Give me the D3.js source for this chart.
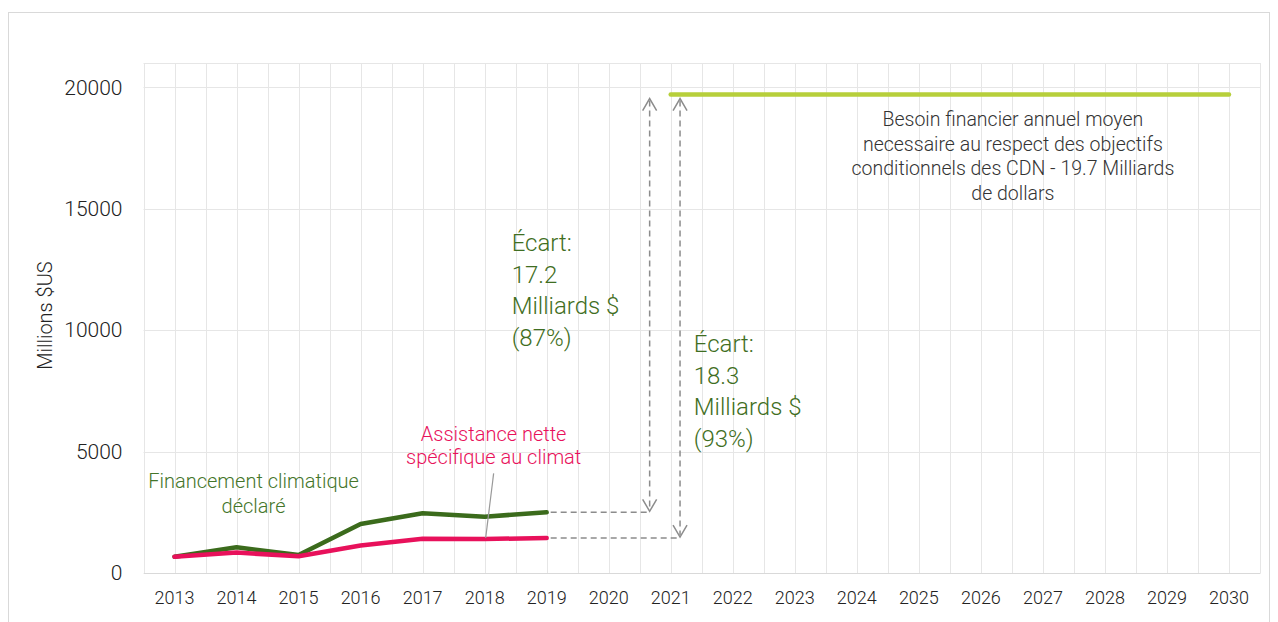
<!DOCTYPE html>
<html>
<head>
<meta charset="utf-8">
<script src="https://cdn.jsdelivr.net/npm/d3@7"></script>
<style>
  body { margin: 0; background: #fff; }
  #chart { width: 1278px; height: 622px; }
</style>
</head>
<body>
<div id="chart"></div>
<script>
const years = d3.range(2013, 2031).map(String);
const histYears = ["2013", "2014", "2015", "2016", "2017", "2018", "2019"];
const financement = [670, 1060, 740, 2020, 2460, 2320, 2500];
const assistance = [670, 840, 690, 1130, 1410, 1400, 1440];
const needYears = ["2021", "2030"];
const needValue = 19700;
const yTicks = [0, 5000, 10000, 15000, 20000];

const width = 1278, height = 622;
const margin = { top: 63, right: 18, bottom: 49, left: 143.5 };

const svg = d3.select("#chart")
  .append("svg")
  .attr("width", width)
  .attr("height", height)
  .style("font-family", "Roboto, sans-serif")
  .style("font-weight", 300);

// outer frame
svg.append("rect")
  .attr("x", 8.5).attr("y", 12.5)
  .attr("width", 1261).attr("height", 640)
  .attr("fill", "none")
  .attr("stroke", "#d9d9d9");

const x = d3.scaleBand()
  .domain(years)
  .range([margin.left, width - margin.right])
  .padding(0);
const bw = x.bandwidth();
const cx = d => x(d) + bw / 2;

const y = d3.scaleLinear()
  .domain([0, 21000])
  .range([height - margin.bottom, margin.top]);

// grid
const grid = svg.append("g").attr("stroke", "#e6e6e6").attr("stroke-width", 1);
const gx = [];
years.forEach(d => { gx.push(x(d)); gx.push(cx(d)); });
gx.push(x(years[years.length - 1]) + bw);
grid.selectAll(".v").data(gx).enter().append("line")
  .attr("x1", d => Math.round(d) + 0.5).attr("x2", d => Math.round(d) + 0.5)
  .attr("y1", y(21000)).attr("y2", y(0));
grid.selectAll(".h").data(yTicks.concat([21000])).enter().append("line")
  .attr("x1", margin.left).attr("x2", width - margin.right)
  .attr("y1", d => Math.round(y(d)) + 0.5).attr("y2", d => Math.round(y(d)) + 0.5);

// axes
const xAxis = svg.append("g")
  .attr("transform", `translate(0,${y(0)})`)
  .call(d3.axisBottom(x).tickSize(0).tickPadding(18));
xAxis.select(".domain").attr("stroke", "#d9d9d9");
xAxis.selectAll("text").style("font-size", "18px").style("font-family", "Roboto, sans-serif").attr("fill", "#222");

const yAxis = svg.append("g")
  .attr("transform", `translate(${margin.left},0)`)
  .call(d3.axisLeft(y).tickValues(yTicks).tickSize(0).tickPadding(21).tickFormat(d3.format("d")));
yAxis.select(".domain").remove();
yAxis.selectAll("text").style("font-size", "21px").style("font-family", "Roboto, sans-serif").attr("fill", "#222");

svg.append("text")
  .attr("transform", `translate(52,${y(10600)}) rotate(-90)`)
  .attr("text-anchor", "middle")
  .style("font-size", "20px")
  .attr("fill", "#222")
  .text("Millions $US");

// lines
const line = d3.line()
  .x((d, i) => cx(histYears[i]))
  .y(d => y(d));

svg.append("path")
  .datum(financement)
  .attr("d", line)
  .attr("fill", "none")
  .attr("stroke", "#3b6b1c")
  .attr("stroke-width", 4.5)
  .attr("stroke-linecap", "round")
  .attr("stroke-linejoin", "round");

svg.append("path")
  .datum(assistance)
  .attr("d", line)
  .attr("fill", "none")
  .attr("stroke", "#e8115b")
  .attr("stroke-width", 4.5)
  .attr("stroke-linecap", "round")
  .attr("stroke-linejoin", "round");

svg.append("line")
  .attr("x1", cx(needYears[0])).attr("x2", cx(needYears[1]))
  .attr("y1", y(needValue)).attr("y2", y(needValue))
  .attr("stroke", "#b7cf3b")
  .attr("stroke-width", 4.5)
  .attr("stroke-linecap", "round");

// gap arrows
const dashCol = "#8c8c8c";
function gapArrow(value, xPos) {
  const g = svg.append("g").attr("stroke", dashCol).attr("stroke-width", 1.5).attr("fill", "none");
  g.append("line")
    .attr("x1", cx("2019") + 4).attr("x2", xPos)
    .attr("y1", y(value)).attr("y2", y(value))
    .attr("stroke-dasharray", "6,4");
  const top = y(needValue) + 4, bot = y(value) - 1;
  g.append("line")
    .attr("x1", xPos).attr("x2", xPos)
    .attr("y1", top + 2).attr("y2", bot - 2)
    .attr("stroke-dasharray", "6,4");
  g.append("path").attr("d", `M${xPos - 7},${top + 12}L${xPos},${top}L${xPos + 7},${top + 12}`);
  g.append("path").attr("d", `M${xPos - 7},${bot - 12}L${xPos},${bot}L${xPos + 7},${bot - 12}`);
}
gapArrow(financement[6], cx("2020") + 0.66 * bw);
gapArrow(assistance[6], cx("2021") + 0.15 * bw);

// annotations
function multiText(lines, xPos, yPos, opts) {
  const t = svg.append("text")
    .attr("x", xPos).attr("y", yPos)
    .attr("text-anchor", opts.anchor)
    .attr("fill", opts.color)
    .style("font-size", opts.size + "px");
  lines.forEach((l, i) => {
    t.append("tspan").attr("x", xPos).attr("dy", i === 0 ? 0 : opts.lh).text(l);
  });
}

const gapGreen = "#3f6e22";
multiText(["Écart:", "17.2", "Milliards $", "(87%)"], cx("2019") - 35, y(13250), { anchor: "start", color: gapGreen, size: 24, lh: 31.5 });
multiText(["Écart:", "18.3", "Milliards $", "(93%)"], cx("2021") + 23, y(9100), { anchor: "start", color: gapGreen, size: 24, lh: 31.5 });

multiText([
  "Besoin financier annuel moyen",
  "necessaire au respect des objectifs",
  "conditionnels des CDN - 19.7 Milliards",
  "de dollars"
], x("2026") + bw + 1, y(18400), { anchor: "middle", color: "#333", size: 19.5, lh: 24.5 });

multiText(["Financement climatique", "déclaré"], cx("2014") + 17, y(3500), { anchor: "middle", color: "#44752a", size: 20, lh: 25 });
multiText(["Assistance nette", "spécifique au climat"], cx("2018") + 9, y(5450), { anchor: "middle", color: "#e8115b", size: 20, lh: 23.5 });

// leader line
svg.append("line")
  .attr("x1", cx("2018") + 9).attr("y1", y(4100))
  .attr("x2", cx("2018") + 1).attr("y2", y(assistance[5]) - 1)
  .attr("stroke", "#999")
  .attr("stroke-width", 1.2);
</script>
</body>
</html>
